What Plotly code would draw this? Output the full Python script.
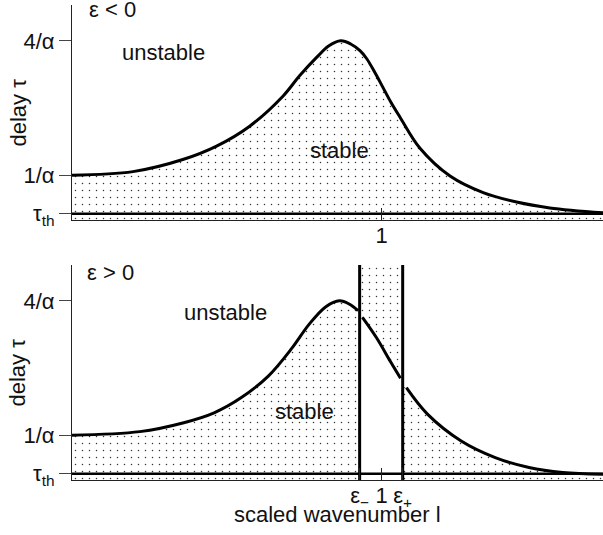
import plotly.graph_objects as go

# ---------------- data ----------------
# upper panel: epsilon < 0
TOP_L = [0.0, 0.197, 0.358, 0.467, 0.575, 0.682, 0.735, 0.790, 0.830, 0.868, 0.900, 0.930,
         0.952, 0.980, 1.005, 1.030, 1.059, 1.124, 1.221, 1.328, 1.436, 1.543, 1.715]
TOP_TAU = [1.0, 1.08, 1.35, 1.65, 2.10, 2.77, 3.22, 3.63, 3.89, 4.0, 3.93, 3.78,
           3.60, 3.27, 2.95, 2.63, 2.30, 1.60, 0.98, 0.61, 0.40, 0.27, 0.16]

# lower panel: epsilon > 0 (curve broken at eps- and eps+)
LEFT_L = [0.0, 0.219, 0.361, 0.459, 0.547, 0.634, 0.711, 0.765, 0.820, 0.864, 0.895, 0.924]
LEFT_TAU = [1.0, 1.08, 1.28, 1.50, 1.84, 2.32, 2.95, 3.47, 3.87, 4.0, 3.93, 3.78]
MID_L = [0.938, 0.984, 1.028, 1.061]
MID_TAU = [3.63, 3.17, 2.65, 2.27]
RIGHT_L = [1.080, 1.148, 1.257, 1.367, 1.476, 1.585, 1.715]
RIGHT_TAU = [2.06, 1.47, 0.87, 0.50, 0.28, 0.17, 0.13]

EPS_MINUS = 0.929
EPS_PLUS = 1.068
TAU_TH = 0.14

L_MAX = 1.715
Y_MAX = 4.8

Y_TICKVALS = [TAU_TH, 1, 4]
Y_TICKTEXT = ["τ<sub>th</sub>", "1/α", "4/α"]
X1_TICKVALS = [1]
X1_TICKTEXT = ["1"]
X2_TICKVALS = [EPS_MINUS, 1, EPS_PLUS]
X2_TICKTEXT = ["ε<sub>−</sub>", "1", "ε<sub>+</sub>"]

# ---------------- styles ----------------
FONT = "Liberation Sans, Arial, Helvetica, sans-serif"
FS = 22
PATTERN = dict(shape=".", size=7, solidity=0.035, fgcolor="black",
               bgcolor="white", fgopacity=0.8)
CURVE = dict(color="black", width=3, shape="spline", smoothing=1.0)
NOLINE = dict(width=0, shape="spline", smoothing=1.0)

fig = go.Figure()

# ---------- top panel ----------
fig.add_trace(go.Scatter(x=TOP_L, y=TOP_TAU, mode="lines", line=NOLINE,
                         fill="tozeroy", fillcolor="white", fillpattern=PATTERN,
                         xaxis="x", yaxis="y", hoverinfo="skip"))
fig.add_trace(go.Scatter(x=[0, L_MAX], y=[TAU_TH, TAU_TH], mode="lines",
                         line=dict(color="black", width=2.5), xaxis="x", yaxis="y"))
fig.add_trace(go.Scatter(x=TOP_L, y=TOP_TAU, mode="lines", line=CURVE,
                         xaxis="x", yaxis="y"))

# ---------- bottom panel ----------
fig.add_trace(go.Scatter(x=[EPS_MINUS, EPS_PLUS], y=[Y_MAX, Y_MAX], mode="lines",
                         line=dict(width=0), fill="tozeroy", fillcolor="white",
                         fillpattern=PATTERN, xaxis="x2", yaxis="y2", hoverinfo="skip"))
fig.add_trace(go.Scatter(x=[EPS_MINUS] + MID_L + [EPS_PLUS],
                         y=[MID_TAU[0]] + MID_TAU + [MID_TAU[-1]],
                         mode="lines", line=NOLINE, fill="tozeroy", fillcolor="white",
                         xaxis="x2", yaxis="y2", hoverinfo="skip"))
fig.add_trace(go.Scatter(x=LEFT_L + [EPS_MINUS], y=LEFT_TAU + [LEFT_TAU[-1]],
                         mode="lines", line=NOLINE, fill="tozeroy", fillcolor="white",
                         fillpattern=PATTERN, xaxis="x2", yaxis="y2", hoverinfo="skip"))
fig.add_trace(go.Scatter(x=[EPS_PLUS] + RIGHT_L, y=[RIGHT_TAU[0]] + RIGHT_TAU,
                         mode="lines", line=NOLINE, fill="tozeroy", fillcolor="white",
                         fillpattern=PATTERN, xaxis="x2", yaxis="y2", hoverinfo="skip"))
fig.add_trace(go.Scatter(x=[0, L_MAX], y=[TAU_TH, TAU_TH], mode="lines",
                         line=dict(color="black", width=2.5), xaxis="x2", yaxis="y2"))
for seg_l, seg_t in ((LEFT_L, LEFT_TAU), (MID_L, MID_TAU), (RIGHT_L, RIGHT_TAU)):
    fig.add_trace(go.Scatter(x=seg_l, y=seg_t, mode="lines", line=CURVE,
                             xaxis="x2", yaxis="y2"))
for e in (EPS_MINUS, EPS_PLUS):
    fig.add_trace(go.Scatter(x=[e, e], y=[0, Y_MAX], mode="lines",
                             line=dict(color="black", width=3), xaxis="x2", yaxis="y2"))

# ---------- axes ----------
xcommon = dict(range=[0, L_MAX], showgrid=False, zeroline=False, showline=True,
               automargin=False, ticklabelstandoff=-4,
               linecolor="#222", linewidth=1, ticks="inside", ticklen=12,
               tickcolor="#222", tickwidth=1, tickfont=dict(size=FS, family=FONT, color="#111"))
ycommon = dict(range=[0, Y_MAX], showgrid=False, zeroline=False, showline=True,
               automargin=False,
               linecolor="#222", linewidth=1, ticks="outside", ticklen=12,
               tickcolor="#444", tickwidth=1, tickvals=Y_TICKVALS, ticktext=Y_TICKTEXT,
               tickfont=dict(size=FS, family=FONT, color="#111"))

TOP_DOM = [0.5474, 1.0]
BOT_DOM = [0.0, 0.4526]

fig.update_layout(
    width=603, height=535,
    margin=dict(l=72, r=0, t=5, b=55, autoexpand=False),
    plot_bgcolor="white", paper_bgcolor="white",
    showlegend=False,
    font=dict(family=FONT, size=FS, color="#111"),
    xaxis=dict(xcommon, anchor="y", tickvals=X1_TICKVALS, ticktext=X1_TICKTEXT),
    yaxis=dict(ycommon, anchor="x", domain=TOP_DOM),
    xaxis2=dict(xcommon, anchor="y2", tickvals=X2_TICKVALS, ticktext=X2_TICKTEXT),
    yaxis2=dict(ycommon, anchor="x2", domain=BOT_DOM),
)

ann = []
txt = dict(showarrow=False, font=dict(family=FONT, size=FS, color="#111"))
for dom in (TOP_DOM, BOT_DOM):
    ann.append(dict(txt, text="delay τ", textangle=-90, xref="paper", yref="paper",
                    x=(18 - 72) / 531, y=(dom[0] + dom[1]) / 2,
                    xanchor="center", yanchor="middle"))
ann.append(dict(txt, text="scaled wavenumber l", xref="paper", yref="paper",
                x=0.5, y=-(514 - 480) / 475, xanchor="center", yanchor="middle"))
ann.append(dict(txt, text="ε < 0", xref="x", yref="y", x=0.047, y=4.69,
                xanchor="left", yanchor="middle"))
ann.append(dict(txt, text="unstable", xref="x", yref="y", x=0.295, y=3.75,
                xanchor="center", yanchor="middle"))
ann.append(dict(txt, text="stable", xref="x", yref="y", x=0.865, y=1.55,
                xanchor="center", yanchor="middle"))
ann.append(dict(txt, text="ε > 0", xref="x2", yref="y2", x=0.042, y=4.63,
                xanchor="left", yanchor="middle"))
ann.append(dict(txt, text="unstable", xref="x2", yref="y2", x=0.496, y=3.74,
                xanchor="center", yanchor="middle"))
ann.append(dict(txt, text="stable", xref="x2", yref="y2", x=0.752, y=1.52,
                xanchor="center", yanchor="middle"))
fig.update_layout(annotations=ann)

fig.write_html("out.html", config={"displayModeBar": False},
               post_script="document.body.style.margin='0';document.body.style.padding='0';")
